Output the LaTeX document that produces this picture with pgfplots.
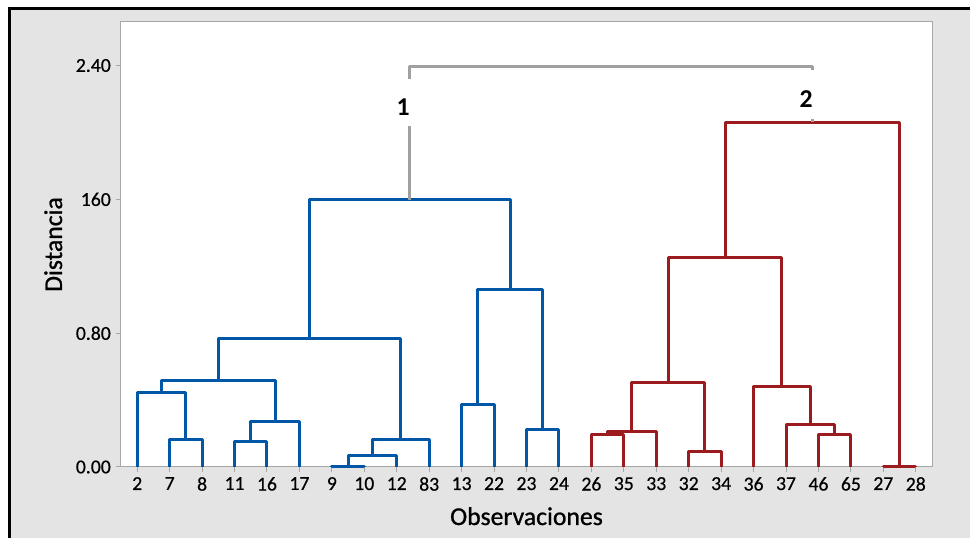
\documentclass[border=0pt]{standalone}
\usepackage{fontspec}
\setmainfont{Carlito}
\newfontfamily\tickfont[FakeBold=0.5]{Carlito}
\newfontfamily\labfont[FakeBold=0.9]{Carlito}
\usepackage{pgfplots}
\pgfplotsset{compat=1.18}
\definecolor{bgray}{RGB}{228,228,228}
\definecolor{framegray}{RGB}{166,166,166}
\definecolor{linkgray}{RGB}{160,160,160}
\definecolor{dblue}{RGB}{0,87,168}
\definecolor{dred}{RGB}{155,27,30}
\begin{document}
\begin{tikzpicture}
\fill[white] (-121pt,-71pt) rectangle (849pt,467pt);
\fill[bgray] (-111.7pt,-71pt) rectangle (849pt,458.3pt);
\draw[line width=2.7pt,black] (-111.7pt,-71pt) -- (-111.7pt,458.3pt) -- (849pt,458.3pt);
\begin{axis}[
  at={(0pt,0pt)}, anchor=south west,
  scale only axis, width=811pt, height=445pt,
  xmin=-0.5, xmax=24.5, ymin=0, ymax=2.66,
  axis background/.style={fill=white},
  axis line style={color=framegray, line width=1pt},
  tick pos=left, tick align=outside,
  major tick length=5pt,
  tick style={color=framegray, line width=1pt},
  /pgf/number format/assume math mode=true,
  tick label style={font=\tickfont\fontsize{19.7}{22}\selectfont, inner sep=0pt},
  xtick={0,1,2,3,4,5,6,7,8,9,10,11,12,13,14,15,16,17,18,19,20,21,22,23,24},
  xticklabels={2,7,8,11,16,17,9,10,12,83,13,22,23,24,26,35,33,32,34,36,37,46,65,27,28},
  ytick={0,0.8,1.6,2.4},
  yticklabels={0.00,0.80,160,2.40},
  xticklabel style={anchor=north, yshift=-5pt},
  yticklabel style={anchor=east, xshift=-5pt},
  xlabel={Observaciones},
  xlabel style={font=\labfont\fontsize{25.7}{28}\selectfont, inner sep=0pt, at={(axis description cs:0.5,0)}, anchor=base, yshift=-58pt},
  bl/.style={color=dblue, line width=3pt, line join=round, mark=none},
  rd/.style={color=dred, line width=3pt, line join=round, mark=none},
  gy/.style={color=linkgray, line width=3pt, line join=round, mark=none},
  clip=false,
]
% blue cluster
\addplot[bl] coordinates {(1,0) (1,0.166) (2,0.166) (2,0)};
\addplot[bl] coordinates {(0,0) (0,0.445) (1.5,0.445) (1.5,0.166)};
\addplot[bl] coordinates {(3,0) (3,0.155) (4,0.155) (4,0)};
\addplot[bl] coordinates {(3.5,0.155) (3.5,0.273) (5,0.273) (5,0)};
\addplot[bl] coordinates {(0.75,0.445) (0.75,0.519) (4.25,0.519) (4.25,0.273)};
\addplot[bl] coordinates {(6,0) (6,0.004) (7,0.004) (7,0)};
\addplot[bl] coordinates {(6.5,0.004) (6.5,0.068) (8,0.068) (8,0)};
\addplot[bl] coordinates {(7.25,0.068) (7.25,0.164) (9,0.164) (9,0)};
\addplot[bl] coordinates {(2.5,0.519) (2.5,0.768) (8.125,0.768) (8.125,0.164)};
\addplot[bl] coordinates {(10,0) (10,0.375) (11,0.375) (11,0)};
\addplot[bl] coordinates {(12,0) (12,0.225) (13,0.225) (13,0)};
\addplot[bl] coordinates {(10.5,0.375) (10.5,1.062) (12.5,1.062) (12.5,0.225)};
\addplot[bl] coordinates {(5.3125,0.768) (5.3125,1.597) (11.5,1.597) (11.5,1.062)};
% red cluster
\addplot[rd] coordinates {(14,0) (14,0.196) (15,0.196) (15,0)};
\addplot[rd] coordinates {(14.5,0.196) (14.5,0.215) (16,0.215) (16,0)};
\addplot[rd] coordinates {(17,0) (17,0.094) (18,0.094) (18,0)};
\addplot[rd] coordinates {(15.25,0.215) (15.25,0.507) (17.5,0.507) (17.5,0.094)};
\addplot[rd] coordinates {(21,0) (21,0.196) (22,0.196) (22,0)};
\addplot[rd] coordinates {(20,0) (20,0.255) (21.5,0.255) (21.5,0.196)};
\addplot[rd] coordinates {(19,0) (19,0.479) (20.75,0.479) (20.75,0.255)};
\addplot[rd] coordinates {(16.375,0.507) (16.375,1.251) (19.875,1.251) (19.875,0.479)};
\addplot[rd] coordinates {(23,0) (23,0.004) (24,0.004) (24,0)};
\addplot[rd] coordinates {(18.125,1.251) (18.125,2.061) (23.5,2.061) (23.5,0.004)};
% gray top link (broken around labels)
\addplot[gy] coordinates {(8.40625,1.597) (8.40625,2.039)};
\addplot[gy] coordinates {(8.40625,2.320) (8.40625,2.394) (20.8125,2.394) (20.8125,2.374)};
\addplot[gy] coordinates {(20.8125,2.081) (20.8125,2.061)};
\node[font=\bfseries\fontsize{25.7}{28}\selectfont, inner sep=0pt] at (axis cs:8.2,2.153) {1};
\node[font=\bfseries\fontsize{25.7}{28}\selectfont, inner sep=0pt] at (axis cs:20.62,2.200) {2};
\node[font=\labfont\fontsize{25.7}{28}\selectfont, inner sep=0pt, rotate=90, anchor=base] at ([xshift=-59pt]rel axis cs:0,0.5) {Distancia};
\end{axis}
\pgfresetboundingbox
\path (-121pt,-71pt) rectangle (849pt,467pt);
\end{tikzpicture}
\end{document}
